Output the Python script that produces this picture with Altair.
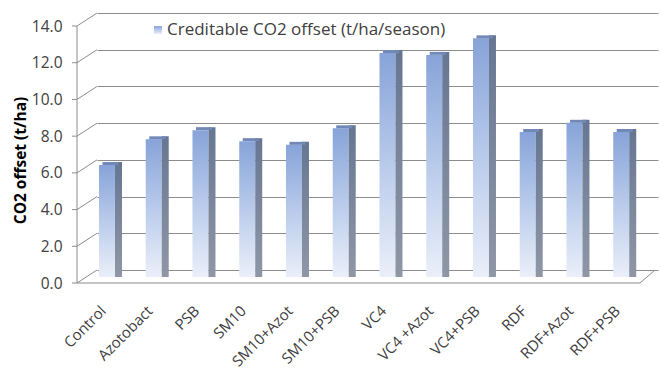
import altair as alt
import pandas as pd

# Creditable CO2 offset per treatment (t/ha/season)
treatments = ["Control", "Azotobact", "PSB", "SM10", "SM10+Azot", "SM10+PSB",
              "VC4", "VC4 +Azot", "VC4+PSB", "RDF", "RDF+Azot", "RDF+PSB"]
co2_offset = [6.1, 7.5, 8.0, 7.4, 7.2, 8.1, 12.2, 12.1, 13.0, 7.9, 8.4, 7.9]
y_ticks = [0, 2, 4, 6, 8, 10, 12, 14]
series_name = "Creditable CO2 offset (t/ha/season)"

FONT = "Open Sans"
TEXT = "#404040"
GRID = "#8c8c8c"

bars = pd.DataFrame({"treatment": treatments, "offset": co2_offset})
ticks = pd.DataFrame({"v": y_ticks})

W, H = 561, 257
DEPTH = 13          # front-to-back shift of the 3-D frame (px)
FRONT_X = -20       # x of the front axis, left of the back wall

x_axis = alt.Axis(title=None, labelAngle=-45, labelAlign="right",
                  labelBaseline="middle", labelPadding=38, labelOffset=-17,
                  domain=False, ticks=False, grid=False,
                  labelFontSize=15, labelColor=TEXT, labelFont=FONT)
y_axis = alt.Axis(values=y_ticks, format=".1f", grid=True, gridColor=GRID,
                  gridWidth=1, domain=False, ticks=False, labelOffset=DEPTH,
                  labelPadding=35, labelFontSize=15.5, labelColor=TEXT,
                  labelFont=FONT, title="CO2  offset (t/ha)", titleFont=FONT,
                  titleFontSize=15.5, titleFontWeight="bold",
                  titleColor="#000000", titleX=-77, titleY=147,
                  titleAlign="center", titleBaseline="middle")
x_scale = alt.Scale(paddingInner=0, paddingOuter=0)
y_scale = alt.Scale(domain=[0, 14], nice=False, zero=True)


def X(field):
    return alt.X(field, sort=treatments, scale=x_scale, axis=x_axis)


def Y(field):
    return alt.Y(field, scale=y_scale, axis=y_axis)


def Yd(value):
    return alt.YDatum(value, type="quantitative", scale=y_scale, axis=y_axis)


front_grad = alt.Gradient(gradient="linear", x1=0, x2=0, y1=0, y2=1, stops=[
    alt.GradientStop(color="#87a3d8", offset=0),
    alt.GradientStop(color="#b9cbeb", offset=0.5),
    alt.GradientStop(color="#eaeff9", offset=1)])
side_grad = alt.Gradient(gradient="linear", x1=0, x2=0, y1=0, y2=1, stops=[
    alt.GradientStop(color="#667692", offset=0),
    alt.GradientStop(color="#8f97a6", offset=1)])

base = alt.Chart(bars)

front_face = base.mark_bar(size=16, xOffset=-13.4, yOffset=7, y2Offset=7,
                           fill=front_grad).encode(
    x=X("treatment:N"), y=Y("offset:Q"), y2=alt.Y2Datum(0))

side_face = base.mark_bar(size=7, xOffset=-1.9, yOffset=4, y2Offset=7,
                          fill=side_grad).encode(
    x=X("treatment:N"), y=Y("offset:Q"), y2=alt.Y2Datum(0))

top_face = base.mark_bar(size=16, xOffset=-9.9, yOffset=4, y2Offset=7,
                         fill="#7289b8").encode(
    x=X("treatment:N"), y=Y("offset:Q"), y2="offset:Q")

tick_base = alt.Chart(ticks)
front_ticks = tick_base.mark_rule(color=GRID, yOffset=DEPTH, y2Offset=DEPTH).encode(
    x=alt.value(FRONT_X - 5), x2=alt.value(FRONT_X), y=Y("v:Q"), y2="v:Q")
connectors = tick_base.mark_rule(color=GRID, yOffset=DEPTH, y2Offset=0).encode(
    x=alt.value(FRONT_X), x2=alt.value(0), y=Y("v:Q"), y2="v:Q")

frame = alt.Chart(pd.DataFrame({"a": [0]}))
front_axis = frame.mark_rule(color=GRID, yOffset=DEPTH, y2Offset=DEPTH).encode(
    x=alt.value(FRONT_X), y=Yd(14), y2=alt.Y2Datum(0))
floor_front = frame.mark_rule(color=GRID, yOffset=DEPTH, y2Offset=DEPTH).encode(
    x=alt.value(FRONT_X), x2=alt.value(W - 18), y=Yd(0), y2=alt.Y2Datum(0))
floor_side = frame.mark_rule(color=GRID, yOffset=DEPTH, y2Offset=0).encode(
    x=alt.value(W - 18), x2=alt.value(W - 3), y=Yd(0), y2=alt.Y2Datum(0))

legend_sym = frame.mark_square(size=64, fill=front_grad, opacity=1).encode(
    x=alt.value(61), y=alt.value(17))
legend_txt = frame.mark_text(align="left", baseline="middle", font=FONT,
                             fontSize=17, color=TEXT).encode(
    x=alt.value(70), y=alt.value(17), text=alt.value(series_name))

chart = alt.layer(
    front_face, side_face, top_face, front_ticks, connectors,
    front_axis, floor_front, floor_side, legend_sym, legend_txt,
).properties(
    width=W, height=H,
    padding={"left": 97, "top": 13, "right": 4, "bottom": 105},
    autosize="none", background="white",
).configure_view(stroke=None)

chart.save("out.html", embed_options={"renderer": "svg", "actions": False})
